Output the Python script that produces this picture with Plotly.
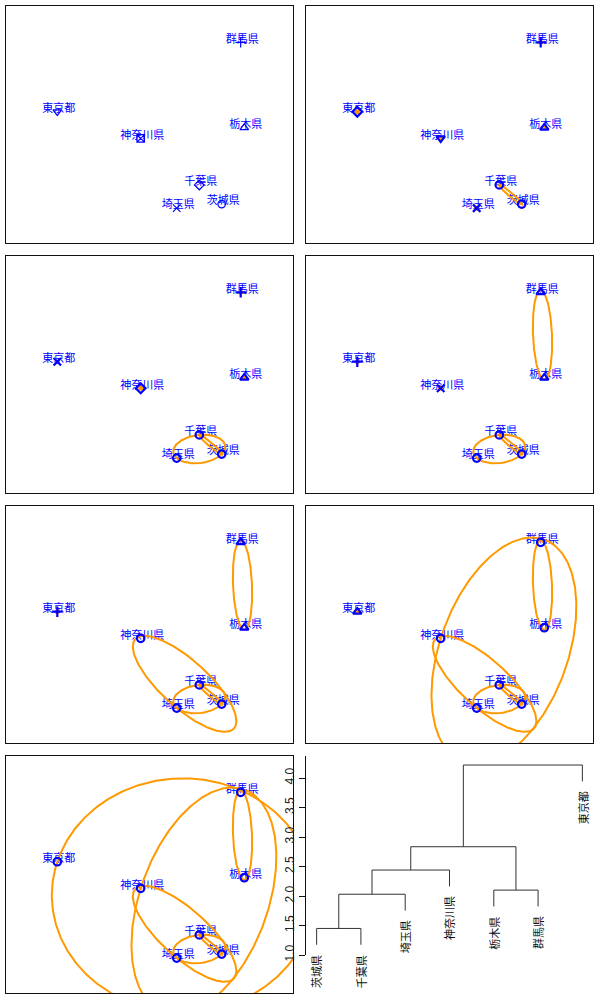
import numpy as np
import plotly.graph_objects as go

# ---------------- data ----------------
prefs = ["茨城県", "栃木県", "群馬県", "埼玉県", "千葉県", "東京都", "神奈川県"]
dim1 = [1.805, 2.37, 2.28, 0.68, 1.245, -2.305, -0.22]
dim2 = [-1.99, -0.08, 2.055, -2.09, -1.51, 0.32, -0.345]

# hclust-style merge table (negative = observation index, 1-based; positive = earlier merge)
merge_left = [-1, -4, -2, -7, 4, -6]
merge_right = [-5, 1, -3, 2, 3, 5]
merge_height = [1.45, 2.03, 2.10, 2.44, 2.835, 4.22]
leaf_order = [1, 5, 4, 7, 2, 3, 6]  # 1-based observation indices, left to right

dend_ticks = [1.0, 1.5, 2.0, 2.5, 3.0, 3.5, 4.0]
dend_tick_text = ["1.0", "1.5", "2.0", "2.5", "3.0", "3.5", "4.0"]

# ---------------- styling ----------------
W, H = 600, 1000
COL_LEFT = [6, 306]
ROW_TOP = [6, 256, 506, 756]
PW, PH = 287, 237
UNIT = 40.0  # px per data unit in scatter panels
BLUE = "#0000FF"
ORANGE = "#FF9900"
JP_FONT = "Noto Sans CJK JP"
PCH = ["circle-open", "triangle-up-open", "cross-thin-open", "x-thin-open",
       "diamond-open", "triangle-down-open", "square-x-open"]

x = np.array(dim1)
y = np.array(dim2)
n = len(prefs)


def members(ref, memo):
    if ref < 0:
        return [-ref - 1]
    return memo[ref - 1]


merge_members = []
for a, b in zip(merge_left, merge_right):
    merge_members.append(members(a, merge_members) + members(b, merge_members))


def cutree(k_merges):
    lab = list(range(n))
    for m in range(k_merges):
        mem = merge_members[m]
        base = lab[mem[0]]
        for i in mem:
            old = lab[i]
            lab = [base if l == old else l for l in lab]
    mapping = {}
    out = []
    for l in lab:
        if l not in mapping:
            mapping[l] = len(mapping)
        out.append(mapping[l])
    return out


def ellipse_path(idx):
    P = np.column_stack([x[idx], y[idx]])
    t = np.linspace(0, 2 * np.pi, 361)
    c = P.mean(axis=0)
    if len(idx) == 2:
        v = P[1] - P[0]
        half = np.linalg.norm(v) / 2
        a = 1.05 * half
        b = 0.2 * a ** 1.5
        e1 = v / np.linalg.norm(v)
        e2 = np.array([-e1[1], e1[0]])
        pts = c[:, None] + np.outer(e1, a * np.cos(t)) + np.outer(e2, b * np.sin(t))
        return pts[0], pts[1]
    D = P - c
    C = D.T @ D / len(idx)
    Ci = np.linalg.inv(C)
    r2 = max(float(d @ Ci @ d) for d in D)
    vals, vecs = np.linalg.eigh(C)
    axes = np.sqrt(vals * r2)
    pts = c[:, None] + vecs @ np.vstack([axes[0] * np.cos(t), axes[1] * np.sin(t)])
    return pts[0], pts[1]


fig = go.Figure()
layout = dict(
    width=W, height=H,
    margin=dict(l=0, r=0, t=0, b=0, pad=0, autoexpand=False),
    paper_bgcolor="white", plot_bgcolor="white", showlegend=False,
)

annotations = []

for p in range(7):
    r, col = divmod(p, 2)
    ax = p + 1
    xs = "x" if ax == 1 else f"x{ax}"
    ys = "y" if ax == 1 else f"y{ax}"
    left = COL_LEFT[col]
    top = ROW_TOP[r]
    layout["xaxis" if ax == 1 else f"xaxis{ax}"] = dict(
        domain=[left / W, (left + PW) / W],
        range=[-PW / 2 / UNIT, PW / 2 / UNIT],
        showline=True, mirror=True, linecolor="#111", linewidth=1,
        showticklabels=False, ticks="", showgrid=False, zeroline=False,
        anchor=ys, fixedrange=True, automargin=False,
    )
    layout["yaxis" if ax == 1 else f"yaxis{ax}"] = dict(
        domain=[1 - (top + PH) / H, 1 - top / H],
        range=[-PH / 2 / UNIT, PH / 2 / UNIT],
        showline=True, mirror=True, linecolor="#111", linewidth=1,
        showticklabels=False, ticks="", showgrid=False, zeroline=False,
        anchor=xs, fixedrange=True, automargin=False,
    )

    # labels
    fig.add_trace(go.Scatter(
        x=x + 1.5 / UNIT, y=y + 2.5 / UNIT, mode="text", text=prefs,
        textposition="middle center",
        textfont=dict(family=JP_FONT, size=11, color=BLUE),
        xaxis=xs, yaxis=ys, hoverinfo="skip",
    ))

    # ellipses for merges so far
    for m in range(p):
        ex, ey = ellipse_path(merge_members[m])
        fig.add_trace(go.Scatter(
            x=ex, y=ey, mode="lines", line=dict(color=ORANGE, width=2),
            xaxis=xs, yaxis=ys, hoverinfo="skip",
        ))

    labs = cutree(p)
    if p > 0:
        counts = {l: labs.count(l) for l in labs}
        single = [i for i in range(n) if counts[labs[i]] == 1]
        fig.add_trace(go.Scatter(
            x=x[single], y=y[single], mode="markers",
            marker=dict(color=ORANGE, size=5, symbol="circle"),
            xaxis=xs, yaxis=ys, hoverinfo="skip",
        ))

    fig.add_trace(go.Scatter(
        x=x, y=y, mode="markers",
        marker=dict(symbol=[PCH[l % len(PCH)] for l in labs], size=7.5,
                    color=BLUE, line=dict(color=BLUE, width=1.2 if p == 0 else 2.2)),
        xaxis=xs, yaxis=ys, hoverinfo="skip",
    ))

# ---------------- dendrogram ----------------
dleft = COL_LEFT[1]
dtop = ROW_TOP[3]
y_axis_bottom_px = 955
y_top_val = 1.0 + (y_axis_bottom_px - dtop) / 59.0
layout["xaxis8"] = dict(
    domain=[dleft / W, (dleft + PW) / W], range=[0.76, 7.24],
    visible=False, anchor="y8", fixedrange=True, automargin=False,
)
layout["yaxis8"] = dict(
    domain=[1 - y_axis_bottom_px / H, 1 - dtop / H], range=[1.0, y_top_val],
    anchor="x8", showline=True, linecolor="#111", linewidth=1,
    ticks="outside", ticklen=6, tickcolor="#111", tickwidth=1,
    tickvals=dend_ticks, ticktext=dend_tick_text, tickangle=-90,
    tickfont=dict(family="Liberation Sans", size=12, color="#222"),
    showgrid=False, zeroline=False, fixedrange=True, automargin=False,
)

hang = 0.1 * (max(merge_height) - min(merge_height))
leaf_x = {obs: i + 1 for i, obs in enumerate(leaf_order)}
node_x = []
seg_x, seg_y = [], []
for m, (a, b) in enumerate(zip(merge_left, merge_right)):
    h = merge_height[m]
    ends = []
    for ref in (a, b):
        if ref < 0:
            ends.append((leaf_x[-ref], h - hang))
            annotations.append(dict(
                x=leaf_x[-ref], y=h - hang, xref="x8", yref="y8",
                text=prefs[-ref - 1], textangle=-90, showarrow=False,
                xanchor="center", yanchor="top", yshift=-8,
                font=dict(family=JP_FONT, size=11, color="#111"),
            ))
        else:
            ends.append((node_x[ref - 1], merge_height[ref - 1]))
    (x1, h1), (x2, h2) = ends
    seg_x += [x1, x1, x2, x2, None]
    seg_y += [h1, h, h, h2, None]
    node_x.append((x1 + x2) / 2)

fig.add_trace(go.Scatter(
    x=seg_x, y=seg_y, mode="lines", line=dict(color="#333", width=1),
    xaxis="x8", yaxis="y8", hoverinfo="skip",
))

layout["annotations"] = annotations
fig.update_layout(**layout)
fig.write_html("out.html")
